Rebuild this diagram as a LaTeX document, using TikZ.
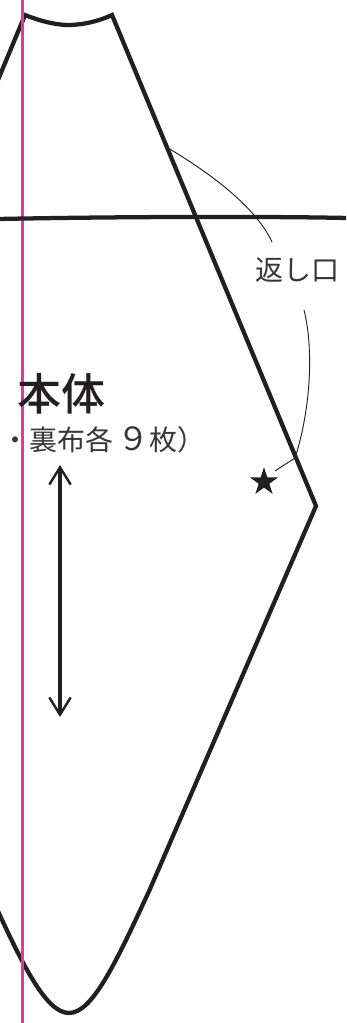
\documentclass[tikz,border=0pt]{standalone}
\usepackage{fontspec}
\usepackage{xcolor}
\usetikzlibrary{arrows.meta,positioning,shapes.geometric}
\newfontfamily\jpfont[BoldFont={Noto Sans CJK JP Medium}]{Noto Sans CJK JP}
\definecolor{inkblack}{HTML}{231F20}
\definecolor{foldpink}{HTML}{E6379F}

\begin{document}
\begin{tikzpicture}[
    x=0.75pt, y=-0.75pt,
    outline/.style={line width=3.2pt, draw=inkblack, line join=miter},
    leader/.style={line width=0.7pt, draw=inkblack},
    grain/.style={line width=2.6pt, draw=inkblack, {Straight Barb[length=13pt,width=16pt,line width=1.8pt]}-{Straight Barb[length=13pt,width=16pt,line width=1.8pt]}},
    label/.style={inner sep=0pt, text=inkblack!90, font=\jpfont\fontsize{21pt}{21pt}\selectfont}
]
\clip (0,0) rectangle (346,1023);

\coordinate (topl) at (25,15);
\coordinate (topr) at (112,15);
\coordinate (tip) at (316,506);
\coordinate (tipl) at (-179,506);
\coordinate (hemr) at (150,889);
\coordinate (heml) at (-12,889);
\coordinate (bottom) at (69,1013);

% pattern piece
\draw [outline] (topl) .. controls (45,23) and (60,25) .. (68,25)
    .. controls (78,25) and (95,23) .. (topr) -- (tip) -- (hemr)
    .. controls (115,965) and (92,1013) .. (bottom)
    .. controls (46,1013) and (22,965) .. (heml) -- (tipl) -- cycle;

% fold line and cut line
\draw [foldpink, line width=2pt] (22.7,0) -- (22.7,1023);
\draw [outline] (-2,219) .. controls (100,217) and (250,216) .. (348,218);

% labels
\node (body) [label, anchor=center, text=inkblack, font=\jpfont\bfseries\fontsize{33pt}{33pt}\selectfont] at (61,394) {本体};
\node (cloth) [label, anchor=west] at (1,440) {・裏布各\hspace{3pt}{\fontsize{24pt}{24pt}\selectfont ９}枚）};
\node (opening) [label, anchor=west] at (255,270) {返し口};
\node (star) [star, star points=5, star point ratio=2.6, fill=inkblack, inner sep=0pt, minimum size=22pt] at (264,482) {};

% grain arrow
\coordinate (graint) at (60,465);
\coordinate (grainb) at (60,717);
\draw [grain] (graint) -- (grainb);

% leaders
\coordinate (leada) at (168,148);
\coordinate (leadb) at (272,242);
\coordinate (leadc) at (304,310);
\coordinate (leadd) at (295,458);
\coordinate (leade) at (275,471);
\draw [leader] (leada) .. controls (205,170) and (255,205) .. (leadb);
\draw [leader] (leadc) .. controls (313,345) and (312,405) .. (leadd) -- (leade);
\end{tikzpicture}
\end{document}
